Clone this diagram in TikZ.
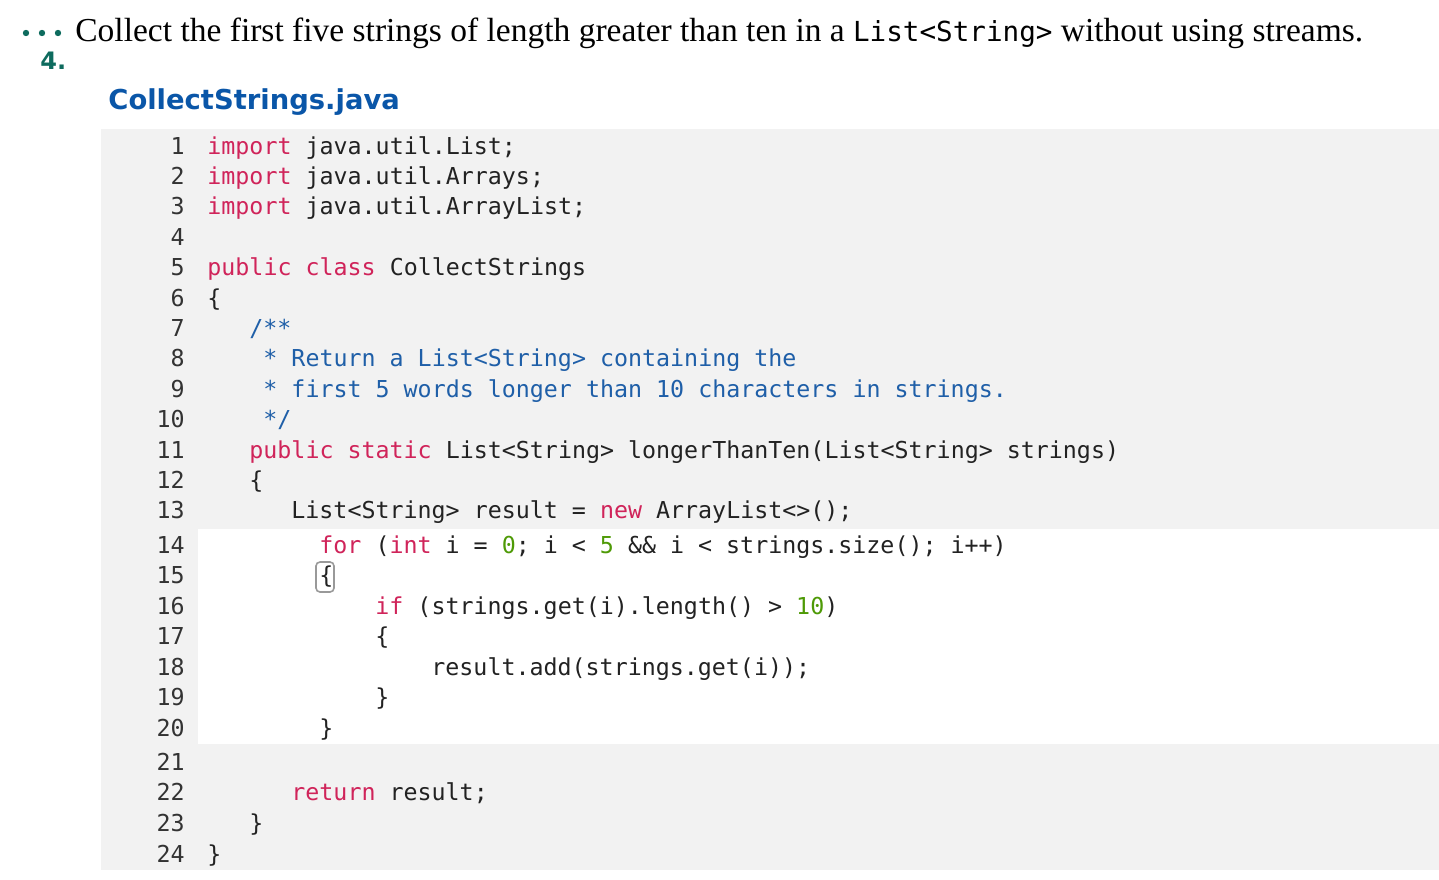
\documentclass[tikz,border=0pt]{standalone}
\usepackage{fontspec}
\setmainfont{Liberation Serif}
\newfontfamily\codefont{DejaVu Sans Mono}
\newfontfamily\headsans{DejaVu Sans}
\definecolor{kw}{HTML}{D0245A}
\definecolor{cm}{HTML}{1F5FA8}
\definecolor{nm}{HTML}{4E9A06}
\definecolor{teal}{HTML}{0E6B5E}
\definecolor{ttl}{HTML}{0A56A8}
\definecolor{bg}{HTML}{F2F2F2}
\definecolor{txt}{HTML}{222222}
\newcommand{\K}[1]{\textcolor{kw}{#1}}
\newcommand{\Cm}[1]{\textcolor{cm}{#1}}
\newcommand{\N}[1]{\textcolor{nm}{#1}}
\begin{document}
\begin{tikzpicture}[x=0.5pt,y=-0.5pt,
  code/.style={anchor=base west,inner sep=0pt,font=\codefont\fontsize{11.65}{14}\selectfont,text=txt},
  lnum/.style={anchor=base east,inner sep=0pt,font=\codefont\fontsize{11.65}{14}\selectfont,text=black!80},
  dot/.style={circle,fill=teal,inner sep=0pt,minimum size=3.2pt}]
\useasboundingbox (0,0) rectangle (1439,879);
\fill[bg] (101,129) rectangle (1439,870);
\fill[white] (198,529) rectangle (1439,744);
\draw[black!40,rounded corners=2pt,line width=0.8pt] (316,562) rectangle (334,592);
\node[dot] (d1) at (26,33) {};
\node[dot] (d2) at (42,33) {};
\node[dot] (d3) at (58,33) {};
\node[anchor=base west,inner sep=0pt,font=\fontsize{16.75}{18}\selectfont] (head) at (75,41) {Collect the first five strings of length greater than ten in a {\codefont\fontsize{13.8}{16}\selectfont List<String>} without using streams.};
\node[anchor=base west,inner sep=0pt,text=teal,font=\headsans\bfseries\fontsize{12}{14}\selectfont] (num) at (40,69) {4.};
\node[anchor=base west,inner sep=0pt,text=ttl,font=\headsans\bfseries\fontsize{13.7}{16}\selectfont] (title) at (108,109) {CollectStrings.java};
% line numbers and code
\foreach \i/\y in {1/146,2/176.4,3/206.8,4/237.2,5/267.6,6/298,7/328.4,8/358.8,9/389.2,10/419.6,11/450,12/480.4,13/510.8,14/545,15/575.5,16/606,17/636.5,18/667,19/697.5,20/728,21/762,22/792.7,23/823.4,24/854.1}
  \node[lnum] (n\i) at (185,\y+8) {\i};
\node[code] (c1) at (207,154) {\K{import} java.util.List;};
\node[code] (c2) at (207,184.4) {\K{import} java.util.Arrays;};
\node[code] (c3) at (207,214.8) {\K{import} java.util.ArrayList;};
\node[code] (c5) at (207,275.6) {\K{public} \K{class} CollectStrings};
\node[code] (c6) at (207,306) {\{};
\node[code] (c7) at (249,336.4) {\Cm{/**}};
\node[code] (c8) at (249,366.8) {\Cm{~* Return a List<String> containing the}};
\node[code] (c9) at (249,397.2) {\Cm{~* first 5 words longer than 10 characters in strings.}};
\node[code] (c10) at (249,427.6) {\Cm{~*/}};
\node[code] (c11) at (249,458) {\K{public} \K{static} List<String> longerThanTen(List<String> strings)};
\node[code] (c12) at (249,488.4) {\{};
\node[code] (c13) at (291,518.8) {List<String> result = \K{new} ArrayList<>();};
\node[code] (c14) at (319,553) {\K{for} (\K{int} i = \N{0}; i < \N{5} \&\& i < strings.size(); i++)};
\node[code] (c15) at (319,583.5) {\{};
\node[code] (c16) at (375,614) {\K{if} (strings.get(i).length() > \N{10})};
\node[code] (c17) at (375,644.5) {\{};
\node[code] (c18) at (431,675) {result.add(strings.get(i));};
\node[code] (c19) at (375,705.5) {\}};
\node[code] (c20) at (319,736) {\}};
\node[code] (c22) at (291,800.7) {\K{return} result;};
\node[code] (c23) at (249,831.4) {\}};
\node[code] (c24) at (207,862.1) {\}};
\end{tikzpicture}
\end{document}
